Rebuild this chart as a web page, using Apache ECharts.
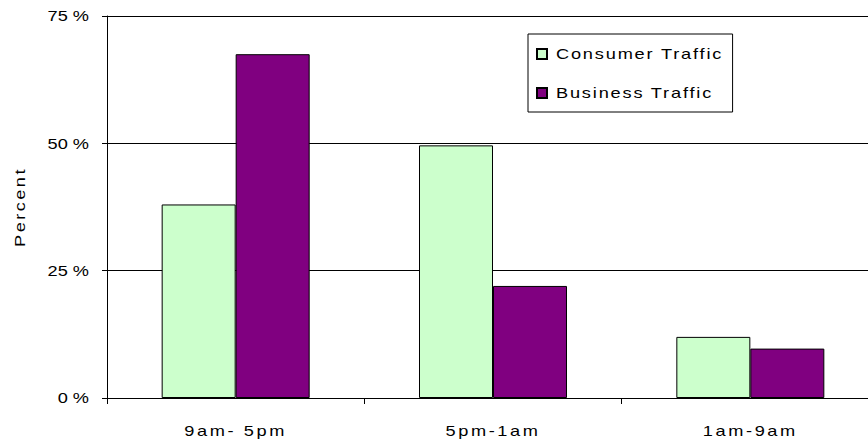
<!DOCTYPE html>
<html>
<head>
<meta charset="utf-8">
<script src="https://cdn.jsdelivr.net/npm/echarts@6/dist/echarts.min.js"></script>
<style>
  html, body { margin: 0; padding: 0; background: #fff; overflow: hidden; }
  /* wider than the window: the right end of the plot is cut off in the original */
  #chart { width: 880px; height: 445px; }
</style>
</head>
<body>
<div id="chart"></div>
<script>
// data
var categories = ['9am- 5pm', '5pm-1am', '1am-9am']
var consumerTraffic = [38, 49.6, 12]
var businessTraffic = [67.5, 22, 9.7]
var yTicks = [0, 25, 50, 75]
var seriesNames = ['Consumer Traffic', 'Business Traffic']

var font = 'Liberation Sans, Arial, sans-serif'

var chart = echarts.init(document.getElementById('chart'), null, { renderer: 'svg' })
chart.setOption({
  backgroundColor: '#fff',
  animation: false,
  grid: { left: 107, top: 16, right: 1, bottom: 47 },
  legend: {
    orient: 'vertical',
    left: 528,
    top: 34,
    backgroundColor: '#fff',
    borderColor: '#000',
    borderWidth: 1,
    borderRadius: 0,
    padding: [13, 70, 12, 8],
    itemWidth: 10,
    itemHeight: 10,
    itemGap: 25,
    icon: 'rect',
    textStyle: { fontFamily: font, fontSize: 14, color: '#000', padding: [0, 0, 0, 4] },
    data: seriesNames
  },
  xAxis: {
    type: 'category',
    data: categories,
    axisLine: { lineStyle: { color: '#000', width: 1 } },
    axisTick: { show: true, length: 6, lineStyle: { color: '#000' } },
    axisLabel: { color: '#000', fontFamily: font, fontSize: 14, margin: 26 }
  },
  yAxis: {
    type: 'value',
    min: 0,
    max: 75,
    interval: 25,
    name: 'Percent',
    nameLocation: 'middle',
    nameRotate: 90,
    nameGap: 80,
    nameTextStyle: { color: '#000', fontFamily: font, fontSize: 14 },
    axisLine: { show: true, lineStyle: { color: '#000', width: 1 } },
    axisTick: { show: true, length: 5, lineStyle: { color: '#000' } },
    axisLabel: {
      color: '#000', fontFamily: font, fontSize: 14, margin: 18,
      formatter: function (v) { return yTicks.indexOf(v) >= 0 ? v + ' %' : '' }
    },
    splitLine: { show: true, lineStyle: { color: '#000', width: 1 } }
  },
  series: [
    {
      name: seriesNames[0],
      type: 'bar',
      data: consumerTraffic,
      barWidth: 74,
      barGap: '0%',
      itemStyle: { color: '#CCFFCC', borderColor: '#000', borderWidth: 1 }
    },
    {
      name: seriesNames[1],
      type: 'bar',
      data: businessTraffic,
      barWidth: 74,
      barGap: '0%',
      itemStyle: { color: '#800080', borderColor: '#000', borderWidth: 1 }
    }
  ]
})

// the old picture is stretched sideways, so its text is wide: stretch ours too
var stretch = 1.3
function widenText() {
  document.querySelectorAll('#chart text').forEach(function (t) {
    if (t.getAttribute('data-wide')) return
    var s = t.textContent
    var sp = 0
    if (categories.indexOf(s) >= 0) sp = 2
    else if (seriesNames.indexOf(s) >= 0) sp = 1.4
    else if (s === 'Percent') sp = 1.9
    else if (!/%$/.test(s)) return
    var tr = t.getAttribute('transform') || ''
    t.setAttribute('transform', tr + ' scale(' + stretch + ' 1)')
    var x = parseFloat(t.getAttribute('x') || 0)
    t.setAttribute('x', x / stretch)
    if (sp) t.setAttribute('letter-spacing', sp + 'px')
    t.setAttribute('data-wide', '1')
  })
}
chart.on('finished', widenText)
widenText()
</script>
</body>
</html>
